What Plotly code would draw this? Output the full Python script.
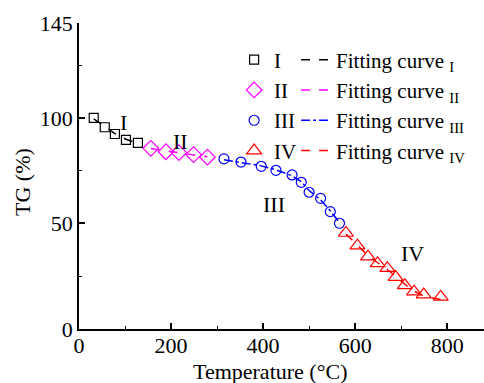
import plotly.graph_objects as go

# Stage I
t1 = [32, 56, 78, 102, 128]
tg1 = [100.0, 95.6, 92.4, 89.6, 88.2]
fit1 = [99.6, 95.8, 92.6, 89.9, 88.0]
# Stage II
t2 = [156, 189, 217, 249, 279]
tg2 = [85.6, 84.0, 83.6, 82.6, 81.4]
fit2 = [85.5, 84.3, 83.5, 82.5, 81.6]
# Stage III
t3 = [315, 352, 396, 428, 463, 483, 500, 525, 546, 566]
tg3 = [80.6, 79.1, 77.1, 75.2, 73.0, 69.5, 64.8, 61.9, 55.6, 50.1]
fit3 = [80.2, 79.0, 77.3, 75.4, 72.6, 69.8, 65.6, 61.2, 56.0, 50.4]
# Stage IV
t4 = [580, 605, 628, 649, 670, 688, 708, 728, 749, 786]
tg4 = [45.5, 39.5, 34.3, 31.1, 28.8, 24.6, 20.7, 17.7, 16.3, 15.2]
fit4 = [45.0, 39.6, 34.8, 31.4, 28.2, 25.0, 21.2, 18.0, 15.6, 14.0]

stage_names = ["I", "II", "III", "IV"]
colors = ["#000000", "#ff00ff", "#0000ff", "#ff0000"]
symbols = ["square-open", "diamond-open", "circle-open", "triangle-up-open"]
sizes = [9, 12, 10, 13]
dashes = ["dash", "dash", "dashdot", "dash"]

xs = [t1, t2, t3, t4]
ys = [tg1, tg2, tg3, tg4]
fits = [fit1, fit2, fit3, fit4]

FONT = "Liberation Serif, Times New Roman, serif"
FS = 22
LFS = 21

fig = go.Figure()
for i in range(4):
    fig.add_trace(go.Scatter(
        x=xs[i], y=fits[i], mode="lines",
        line=dict(color=colors[i], dash=dashes[i], width=1.5),
        name="Fitting curve <sub>%s</sub>" % stage_names[i],
        legend="legend2",
    ))
for i in range(4):
    fig.add_trace(go.Scatter(
        x=xs[i], y=ys[i], mode="markers",
        marker=dict(symbol=symbols[i], color=colors[i], size=sizes[i],
                    line=dict(width=1.2, color=colors[i])),
        name=stage_names[i],
        legend="legend",
    ))

ann_text = ["I", "II", "III", "IV"]
ann_x = [96, 220, 424, 725]
ann_y = [97.8, 88.8, 58.9, 36]
for tx, ax_, ay_ in zip(ann_text, ann_x, ann_y):
    fig.add_annotation(x=ax_, y=ay_, text=tx, showarrow=False,
                       font=dict(family=FONT, size=FS, color="black"))

# axis titles as annotations for precise placement
fig.add_annotation(x=415, y=-0.138, xref="x", yref="paper", text="Temperature (°C)",
                   showarrow=False, yanchor="middle",
                   font=dict(family=FONT, size=FS, color="black"))
fig.add_annotation(x=-0.141, y=0.48, xref="paper", yref="paper", text="TG (%)",
                   showarrow=False, textangle=-90, xanchor="center", yanchor="middle",
                   font=dict(family=FONT, size=FS, color="black"))

axis_common = dict(
    showline=True, linecolor="black", linewidth=1.6,
    ticks="inside", ticklen=6, tickwidth=1.5, tickcolor="black",
    showgrid=False, zeroline=False, mirror=False,
    tickfont=dict(family=FONT, size=FS, color="black"),
)

fig.update_xaxes(
    range=[0, 880], tickvals=[0, 200, 400, 600, 800],
    ticklabelstandoff=-4,
    minor=dict(tickvals=[100, 300, 500, 700], ticks="inside", ticklen=3,
               tickwidth=1.2, tickcolor="black"),
    **axis_common,
)
fig.update_yaxes(
    range=[0, 145], tickvals=[0, 50, 100, 145],
    minor=dict(tickvals=[25, 75, 125], ticks="inside", ticklen=3,
               tickwidth=1.2, tickcolor="black"),
    **axis_common,
)

fig.update_layout(
    width=484, height=383,
    margin=dict(l=79, r=0, t=23, b=54),
    plot_bgcolor="white", paper_bgcolor="white",
    font=dict(family=FONT, size=FS, color="black"),
    legend=dict(x=0.383, y=0.946, xanchor="left", yanchor="top",
                bgcolor="rgba(0,0,0,0)", font=dict(family=FONT, size=LFS),
                tracegroupgap=0),
    legend2=dict(x=0.536, y=0.946, xanchor="left", yanchor="top",
                 bgcolor="rgba(0,0,0,0)", font=dict(family=FONT, size=LFS),
                 tracegroupgap=0),
)

fig.write_html("out.html")
